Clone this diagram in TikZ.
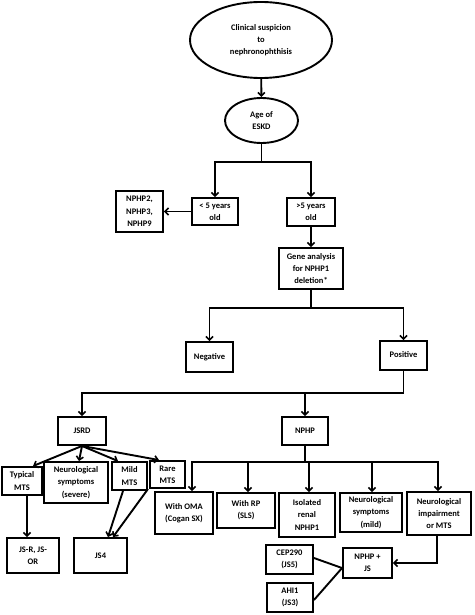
\documentclass[tikz,border=0pt]{standalone}
\usepackage{fontspec}
\setmainfont{Carlito}
\usetikzlibrary{arrows.meta,shapes.geometric,calc}
\newcommand{\rl}[2]{\raisebox{#1}{\begin{tabular}{@{}c@{}}#2\end{tabular}}}
\tikzset{
  every node/.style={font=\fontsize{8.5}{12.3}\selectfont\bfseries, align=center, inner sep=0.5pt},
  bx/.style={draw, line width=1.9pt, rectangle, minimum width=#1},
  el/.style={draw, line width=1.9pt, ellipse},
  ln/.style={line width=1.9pt},
  ar/.style={line width=1.9pt, -{Straight Barb[length=3.5pt,width=7pt,line width=1.6pt]}}
}
\begin{document}
\begin{tikzpicture}[x=1pt,y=-1pt]
\fill[white] (0,0) rectangle (474,615);
\useasboundingbox (0,0) rectangle (474,615);
% nodes
\node[el, minimum width=142pt, minimum height=76pt] (clin) at (261,40) {\rl{6pt}{Clinical suspicion\\to\\nephronophthisis}};
\node[el, minimum width=73pt, minimum height=45pt] (age) at (261.5,120.5) {Age of\\ESKD};
\node[bx=46pt, minimum height=27pt] (lt5) at (215,211.5) {< 5 years\\old};
\node[bx=47pt, minimum height=41pt] (nphp2) at (139.5,211.5) {NPHP2,\\NPHP3,\\NPHP9};
\node[bx=48pt, minimum height=28pt] (gt5) at (311,212) {>5 years\\old};
\node[bx=64pt, minimum height=41pt] (gene) at (311,268.5) {Gene analysis\\for NPHP1\\deletion*};
\node[bx=47pt, minimum height=30pt] (neg) at (209.5,357) {\rl{5pt}{Negative}};
\node[bx=47pt, minimum height=29pt] (pos) at (403.5,355.5) {\rl{4pt}{Positive}};
\node[bx=48pt, minimum height=28pt] (jsrd) at (82,431) {\rl{4pt}{JSRD}};
\node[bx=46pt, minimum height=28pt] (nphp) at (305,431) {\rl{3pt}{NPHP}};
\node[bx=40pt, minimum height=28pt] (typ) at (22,481) {Typical\\MTS};
\node[bx=64pt, minimum height=41pt] (nsev) at (76,482.5) {Neurological\\symptoms\\(severe)};
\node[bx=35pt, minimum height=28pt] (mild) at (129.5,476) {Mild\\MTS};
\node[bx=35pt, minimum height=27pt] (rare) at (167.5,474.5) {Rare\\MTS};
\node[bx=52pt, minimum height=35pt] (jsr) at (33,555.5) {JS-R, JS-\\OR};
\node[bx=53pt, minimum height=35pt] (js4) at (100.5,555.5) {JS4};
\node[bx=58pt, minimum height=42pt] (oma) at (184,513) {With OMA\\(Cogan SX)};
\node[bx=58pt, minimum height=35pt] (rp) at (246,510.5) {With RP\\(SLS)};
\node[bx=56pt, minimum height=44pt] (iso) at (307,515) {Isolated\\renal\\NPHP1};
\node[bx=62pt, minimum height=39pt] (nmild) at (371,512.5) {Neurological\\symptoms\\(mild)};
\node[bx=64pt, minimum height=43pt] (nimp) at (439,513.5) {Neurological\\impairment\\or MTS};
\node[bx=49pt, minimum height=30pt] (njs) at (367.5,563) {NPHP +\\JS};
\node[bx=47pt, minimum height=29pt] (cep) at (289.5,559.5) {CEP290\\(JS5)};
\node[bx=46pt, minimum height=29pt] (ahi) at (290,597.5) {AHI1\\(JS3)};
% junctions
\coordinate (j1) at (261.5,162);
\coordinate (j2) at (311,308);
\coordinate (j3) at (403.5,393);
\coordinate (j4) at (305,462);
% connectors
\draw[ar] (clin) -- (age);
\draw[ln] (age) -- (j1);
\draw[ar] (j1) -| (lt5.north);
\draw[ar] (j1) -| (gt5.north);
\draw[ar] (lt5.west) -- (nphp2.east);
\draw[ar] (gt5) -- (gene);
\draw[ln] (gene) -- (j2);
\draw[ar] (j2) -| (neg.north);
\draw[ar] (j2) -| (pos.north);
\draw[ln] (pos) -- (j3);
\draw[ar] (j3) -| (jsrd.north);
\draw[ar] (j3 -| nphp.north) -- (nphp.north);
\draw[ar] (jsrd.south) -- ([xshift=11pt]typ.north);
\draw[ar] (jsrd.south) -- ([xshift=3pt]nsev.north);
\draw[ar] (jsrd.south) -- ([xshift=-11.5pt]mild.north);
\draw[ar] (jsrd.south) -- ([xshift=-8.5pt]rare.north);
\draw[ar] ([xshift=5pt]typ.south) -- ([xshift=5pt]typ.south |- jsr.north);
\draw[ar] ([xshift=-6.5pt]mild.south) -- ([xshift=7.5pt]js4.north);
\draw[ar] ([xshift=-19.5pt]rare.south) -- ([xshift=12.5pt]js4.north);
\draw[ln] (nphp) -- (j4);
\draw[ar] (j4) -| ([xshift=8pt]oma.north);
\draw[ar] (j4) -| ([xshift=2pt]rp.north);
\draw[ar] (j4) -| ([xshift=2pt]iso.north);
\draw[ar] (j4) -| ([xshift=1pt]nmild.north);
\draw[ar] (j4) -| ([xshift=-1pt]nimp.north);
\draw[ar] ([xshift=-2pt]nimp.south) |- (njs.east);
\draw[ln] ([yshift=1.5pt]cep.east) -- ([yshift=-5pt]njs.west);
\draw[ln] ([yshift=-2.5pt]ahi.east) -- ([yshift=-5pt]njs.west);
\end{tikzpicture}
\end{document}
